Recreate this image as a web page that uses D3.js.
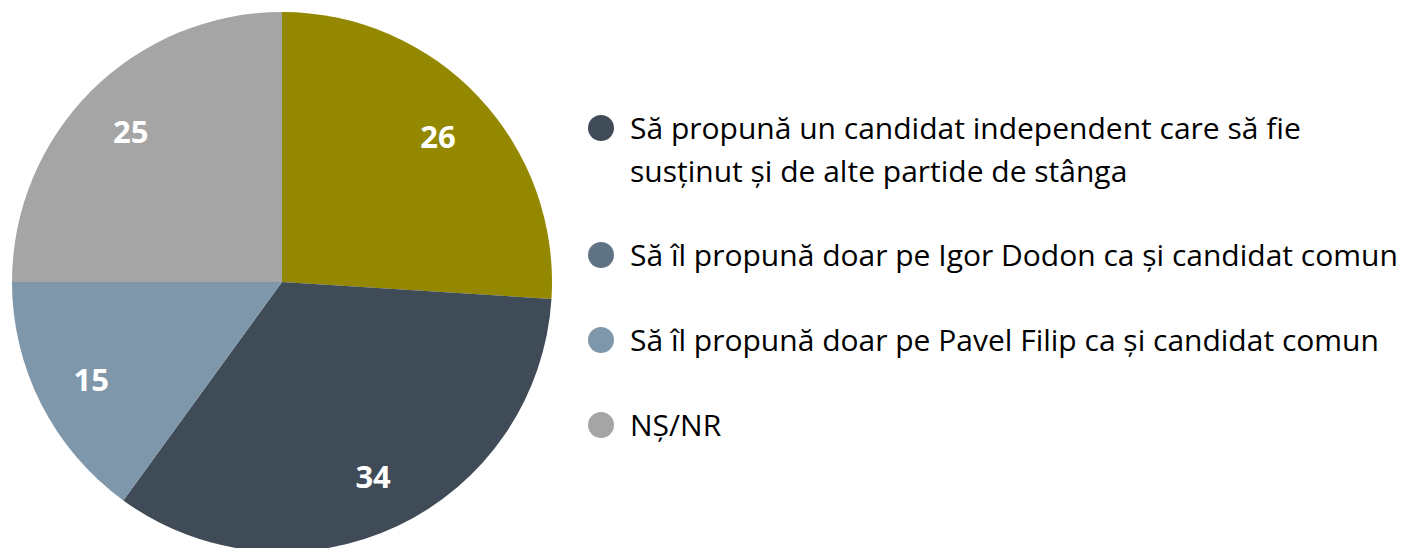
<!DOCTYPE html>
<html>
<head>
<meta charset="utf-8">
<script src="https://cdn.jsdelivr.net/npm/d3@7"></script>
<style>
  body { margin: 0; background: white; }
  svg { display: block; }
</style>
</head>
<body>
<div id="chart"></div>
<script>
// Slice values, clockwise from 12 o'clock
const sliceValues = [26, 34, 15, 25];
const sliceColors = ["#938800", "#3f4b56", "#7f97ab", "#a5a5a5"];

// Legend (as shown in the source, with its own marker colours)
const legendLabels = [
  ["Să propună un candidat independent care să fie", "susținut și de alte partide de stânga"],
  ["Să îl propună doar pe Igor Dodon ca și candidat comun"],
  ["Să îl propună doar pe Pavel Filip ca și candidat comun"],
  ["NȘ/NR"]
];
const legendColors = ["#3f4b56", "#5f7384", "#7f97ab", "#a5a5a5"];

const width = 1401, height = 548;
const cx = 282, cy = 282, radius = 270;

const svg = d3.select("#chart").append("svg")
  .attr("width", width)
  .attr("height", height)
  .style("background-color", "white");

const pie = d3.pie().sort(null).value(d => d);
const arc = d3.arc().innerRadius(0).outerRadius(radius);
const labelArc = d3.arc().innerRadius(214).outerRadius(214);

const g = svg.append("g").attr("transform", `translate(${cx},${cy})`);
const arcs = pie(sliceValues);

g.selectAll("path")
  .data(arcs)
  .enter()
  .append("path")
  .attr("d", arc)
  .attr("fill", (d, i) => sliceColors[i]);

g.selectAll("text")
  .data(arcs)
  .enter()
  .append("text")
  .attr("transform", d => `translate(${labelArc.centroid(d)})`)
  .attr("text-anchor", "middle")
  .attr("dominant-baseline", "central")
  .attr("fill", "white")
  .style("font-family", "'Open Sans', sans-serif")
  .style("font-weight", "bold")
  .style("font-size", "31px")
  .text(d => d.data);

// Legend
const legendX = 601;
const markerY = [128, 255, 340, 425];
const lineGap = 43;

const items = svg.selectAll(".legend")
  .data(legendLabels)
  .enter()
  .append("g")
  .attr("class", "legend")
  .attr("transform", (d, i) => `translate(${legendX},${markerY[i]})`);

items.append("circle")
  .attr("r", 13)
  .attr("fill", (d, i) => legendColors[i]);

items.each(function(lines) {
  const t = d3.select(this).append("text")
    .attr("x", 29)
    .attr("fill", "black")
    .style("font-family", "'Open Sans', sans-serif")
    .style("font-size", "30px");
  lines.forEach((line, j) => {
    t.append("tspan")
      .attr("x", 29)
      .attr("y", j * lineGap - 1)
      .attr("dominant-baseline", "central")
      .text(line);
  });
});
</script>
</body>
</html>
